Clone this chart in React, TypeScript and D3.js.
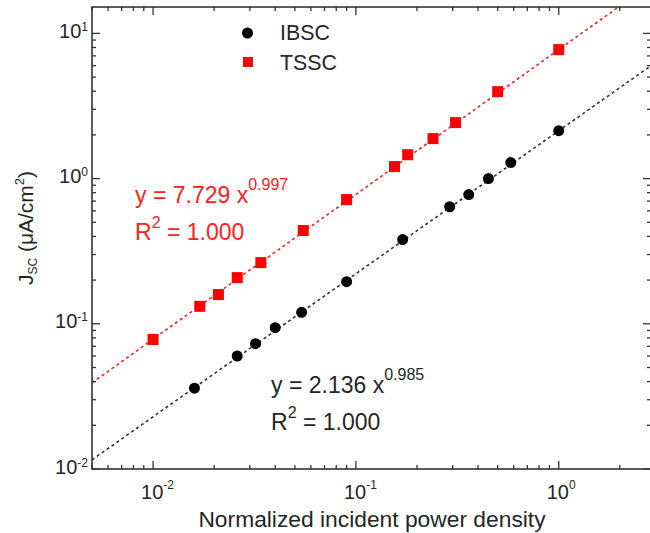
import React from "react";
import * as d3 from "d3";

const ibscX = [0.016, 0.026, 0.032, 0.04, 0.054, 0.09, 0.17, 0.29, 0.36, 0.45, 0.58, 1.0];
const ibscY = [0.036, 0.06, 0.073, 0.094, 0.12, 0.195, 0.38, 0.64, 0.776, 1.0, 1.29, 2.14];
const tsscX = [0.01, 0.017, 0.021, 0.026, 0.034, 0.055, 0.09, 0.155, 0.18, 0.24, 0.31, 0.5, 1.0];
const tsscY = [0.078, 0.132, 0.159, 0.208, 0.264, 0.439, 0.717, 1.21, 1.46, 1.885, 2.43, 3.97, 7.73];
const fitIBSC = { a: 2.136, b: 0.985 };
const fitTSSC = { a: 7.729, b: 0.997 };
const xMajor = [0.01, 0.1, 1];
const xMajorExp = ["-2", "-1", "0"];
const yMajor = [0.01, 0.1, 1, 10];
const yMajorExp = ["-2", "-1", "0", "1"];

const W = 650, H = 533;
const L = 92, R = 651, T = 7, B = 469;
const FONT = "'Liberation Sans', Arial, sans-serif";
const TXT = "#262626";

export default function App() {
  const x = d3.scaleLog().domain([0.005, 2.85]).range([L, R]);
  const y = d3.scaleLog().domain([0.01, 15.2]).range([B, T]);

  const minorTicks = (dom: number[]) => {
    const out: number[] = [];
    for (let e = -3; e <= 2; e++) {
      for (let m = 1; m <= 9; m++) {
        const v = m * Math.pow(10, e);
        if (v >= dom[0] * 0.9999 && v <= dom[1] * 1.0001) out.push(v);
      }
    }
    return out;
  };
  const xt = minorTicks(x.domain());
  const yt = minorTicks(y.domain());
  const isMajor = (v: number) => Math.abs(Math.log10(v) - Math.round(Math.log10(v))) < 1e-6;

  const fitLine = (f: { a: number; b: number }) => {
    const xs = x.domain();
    const pts: [number, number][] = [xs[0], xs[1]].map((v) => [v, f.a * Math.pow(v, f.b)]);
    return d3.line<[number, number]>().x((d) => x(d[0])).y((d) => y(d[1]))(pts) || "";
  };

  const sq = 11;
  return (
    <svg width={W} height={H} style={{ position: "absolute", left: 0, top: 0, background: "#fff" }} fontFamily={FONT}>
      <defs>
        <clipPath id="plot">
          <rect x={L} y={T} width={R - L} height={B - T} />
        </clipPath>
      </defs>
      <g clipPath="url(#plot)">
        <path d={fitLine(fitTSSC)} stroke="#ff2020" strokeWidth={1.6} strokeDasharray="3,3" fill="none" />
        <path d={fitLine(fitIBSC)} stroke="#333" strokeWidth={1.6} strokeDasharray="3,3" fill="none" />
        {tsscX.map((v, i) => (
          <rect key={"t" + i} x={x(v) - sq / 2} y={y(tsscY[i]) - sq / 2} width={sq} height={sq} fill="#ff0000" />
        ))}
        {ibscX.map((v, i) => (
          <circle key={"i" + i} cx={x(v)} cy={y(ibscY[i])} r={5.5} fill="#000" />
        ))}
      </g>
      {/* frame */}
      <rect x={L} y={T} width={R - L} height={B - T} fill="none" stroke="#333" strokeWidth={1.6} />
      {/* x ticks */}
      {xt.map((v, i) => {
        const len = isMajor(v) ? 8 : 4;
        return (
          <g key={"xt" + i} stroke="#333" strokeWidth={1.3}>
            <line x1={x(v)} x2={x(v)} y1={B} y2={B - len} />
            <line x1={x(v)} x2={x(v)} y1={T} y2={T + len} />
          </g>
        );
      })}
      {yt.map((v, i) => {
        const len = isMajor(v) ? 8 : 4;
        return (
          <g key={"yt" + i} stroke="#333" strokeWidth={1.3}>
            <line x1={L} x2={L + len} y1={y(v)} y2={y(v)} />
            <line x1={R} x2={R - len} y1={y(v)} y2={y(v)} />
          </g>
        );
      })}
      {/* x tick labels */}
      {xMajor.map((v, i) => (
        <text key={"xl" + i} x={x(v) - 12} y={499} fontSize={20} fill={TXT}>
          10
          <tspan fontSize={12} dy={-10}>{xMajorExp[i]}</tspan>
        </text>
      ))}
      {yMajor.map((v, i) => (
        <text key={"yl" + i} x={88} y={y(v) + 4.5} fontSize={20} fill={TXT} textAnchor="end">
          10
          <tspan fontSize={12} dy={-7}>{yMajorExp[i]}</tspan>
        </text>
      ))}
      {/* axis titles */}
      <text x={372} y={527} fontSize={22.8} fill={TXT} textAnchor="middle">
        Normalized incident power density
      </text>
      <text transform="translate(33,228) rotate(-90)" fontSize={21} fill={TXT} textAnchor="middle">
        J<tspan fontSize={12} dy={4}>SC</tspan>
        <tspan dy={-4}> (μA/cm</tspan>
        <tspan fontSize={13} dy={-9}>2</tspan>
        <tspan dy={9}>)</tspan>
      </text>
      {/* legend */}
      <circle cx={247.5} cy={33} r={5.5} fill="#000" />
      <text x={280} y={40} fontSize={21.4} fill={TXT}>IBSC</text>
      <rect x={248 - 5} y={62 - 5} width={10} height={10} fill="#ff0000" />
      <text x={280} y={69.5} fontSize={21.4} fill={TXT}>TSSC</text>
      {/* annotations */}
      <text x={135} y={203} fontSize={23} fill="#ff2020">
        y = 7.729 x<tspan fontSize={16} dy={-13}>0.997</tspan>
      </text>
      <text x={135} y={240} fontSize={23} fill="#ff2020">
        R<tspan fontSize={16} dy={-12}>2</tspan>
        <tspan dy={12}> = 1.000</tspan>
      </text>
      <text x={271} y={393} fontSize={23} fill={TXT}>
        y = 2.136 x<tspan fontSize={16} dy={-13}>0.985</tspan>
      </text>
      <text x={271} y={430} fontSize={23} fill={TXT}>
        R<tspan fontSize={16} dy={-12}>2</tspan>
        <tspan dy={12}> = 1.000</tspan>
      </text>
    </svg>
  );
}
